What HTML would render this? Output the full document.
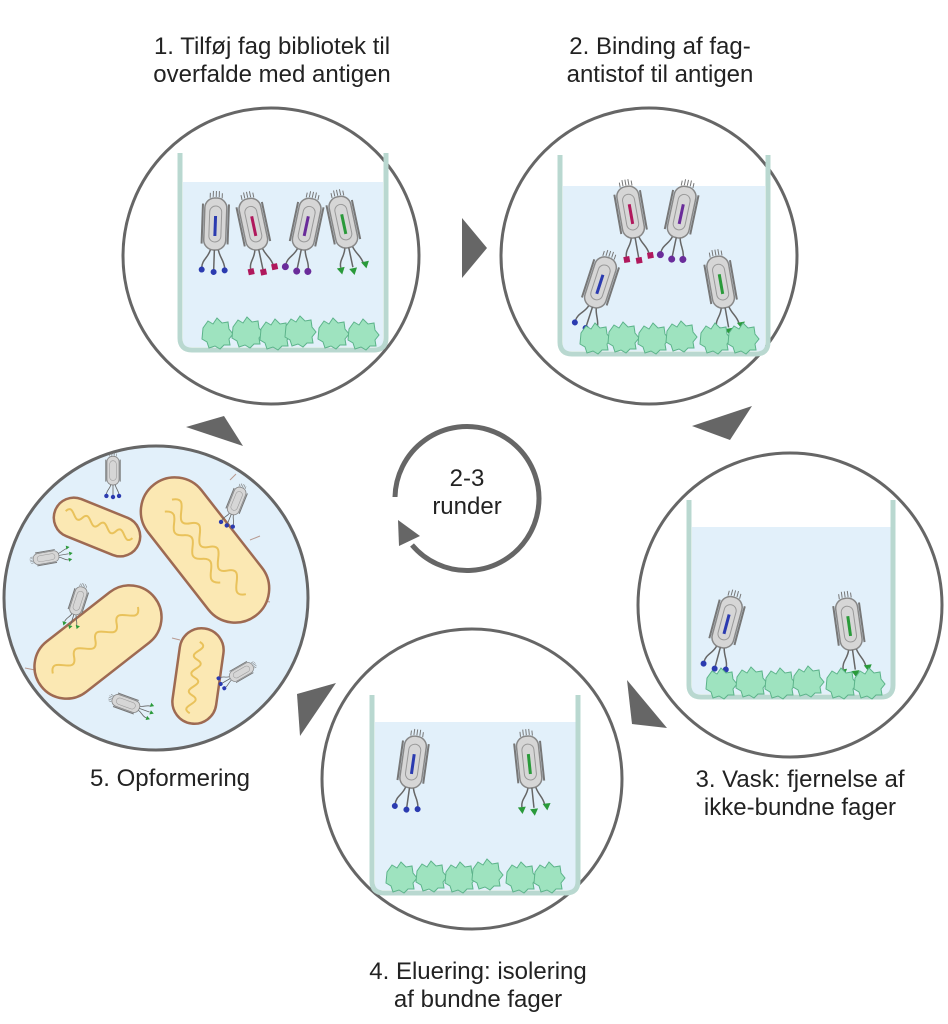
<!DOCTYPE html>
<html><head><meta charset="utf-8"><style>
html,body{margin:0;padding:0;background:#fff}
svg{display:block}
text{font-family:"Liberation Sans",sans-serif;fill:#222;font-size:24px}
</style></head><body>
<svg width="948" height="1024" viewBox="0 0 948 1024">
<defs>
<g id="ph">
  <path d="M-6,-34 l0,-5 M-3,-35 l0,-6 M0,-35 l0,-6 M3,-35 l0,-6 M6,-34 l0,-5" stroke="#777" stroke-width="1"/>
  <rect x="-11" y="-34" width="22" height="52" rx="10" fill="#d6d6d6" stroke="#888" stroke-width="1.5"/>
  <rect x="-6" y="-26" width="12" height="36" rx="6" fill="none" stroke="#999" stroke-width="1"/>
  <line x1="-13" y1="-28" x2="-13" y2="12" stroke="#777" stroke-width="2"/>
  <line x1="13" y1="-28" x2="13" y2="12" stroke="#777" stroke-width="2"/>
  <path d="M-4,18 C-6,26 -12,28 -12,36 M0,18 L0,38 M4,18 C6,26 10,28 11,36" stroke="#666" stroke-width="1.5" fill="none"/>
</g>
<g id="ag">
  <path d="M-11,-5 l5,-7 l5,3 l4,-6 l5,5 l6,-1 l1,7 l4,5 l-4,5 l1,6 l-6,0 l-4,4 l-5,-3 l-6,2 l-2,-6 l-5,-3 z" fill="#9ee3bf" stroke="#5cb38a" stroke-width="1"/>
</g>
</defs>

<text x="272" y="54" text-anchor="middle">1. Tilføj fag bibliotek til</text>
<text x="272" y="82" text-anchor="middle">overfalde med antigen</text>
<text x="660" y="54" text-anchor="middle">2. Binding af fag-</text>
<text x="660" y="82" text-anchor="middle">antistof til antigen</text>
<text x="800" y="787" text-anchor="middle">3. Vask: fjernelse af</text>
<text x="800" y="815" text-anchor="middle">ikke-bundne fager</text>
<text x="478" y="979" text-anchor="middle">4. Eluering: isolering</text>
<text x="478" y="1007" text-anchor="middle">af bundne fager</text>
<text x="170" y="786" text-anchor="middle">5. Opformering</text>

<circle cx="271" cy="256" r="148" fill="#fff" stroke="#666" stroke-width="3"/>
<rect x="183" y="182" width="200" height="165" fill="#e2f0fa"/>
<path d="M180,153 L180,338 Q180,350 192,350 L374,350 Q386,350 386,338 L386,153" fill="none" stroke="#b9d8d0" stroke-width="5"/>
<g transform="translate(215,232) rotate(2)"><use href="#ph"/><rect x="-1.5" y="-16" width="3" height="20" fill="#2b3bb0"/><g fill="#2b3bb0"><circle cx="-12" cy="38" r="3"/><circle cx="0" cy="40" r="3"/><circle cx="11" cy="38" r="3"/></g></g>
<g transform="translate(255,232) rotate(-12)"><use href="#ph"/><rect x="-1.5" y="-16" width="3" height="20" fill="#b0185c"/><g fill="#b0185c"><rect x="-15" y="35" width="6" height="6"/><rect x="-3" y="38" width="6" height="6"/><rect x="9" y="35" width="6" height="6"/></g></g>
<g transform="translate(305,232) rotate(12)"><use href="#ph"/><rect x="-1.5" y="-16" width="3" height="20" fill="#6a2c9a"/><g fill="#6a2c9a"><circle cx="-12" cy="38" r="3.5"/><circle cx="0" cy="40" r="3.5"/><circle cx="11" cy="38" r="3.5"/></g></g>
<g transform="translate(345,230) rotate(-12)"><use href="#ph"/><rect x="-1.5" y="-16" width="3" height="20" fill="#2a9a3a"/><g fill="#2a9a3a"><path d="M-16,36 l8,0 l-4,7z M-4,39 l8,0 l-4,7z M9,35 l8,0 l-4,7z"/></g></g>
<g><use href="#ag" x="214" y="333"/><use href="#ag" x="244" y="332"/><use href="#ag" x="272" y="334"/><use href="#ag" x="297" y="331"/><use href="#ag" x="330" y="333"/><use href="#ag" x="360" y="334"/></g>

<circle cx="649" cy="256" r="148" fill="#fff" stroke="#666" stroke-width="3"/>
<rect x="563" y="186" width="202" height="165" fill="#e2f0fa"/>
<path d="M560,155 L560,342 Q560,354 572,354 L756,354 Q768,354 768,342 L768,155" fill="none" stroke="#b9d8d0" stroke-width="5"/>
<g transform="translate(632,220) rotate(-10)"><use href="#ph"/><rect x="-1.5" y="-16" width="3" height="20" fill="#b0185c"/><g fill="#b0185c"><rect x="-15" y="35" width="6" height="6"/><rect x="-3" y="38" width="6" height="6"/><rect x="9" y="35" width="6" height="6"/></g></g>
<g transform="translate(680,220) rotate(12)"><use href="#ph"/><rect x="-1.5" y="-16" width="3" height="20" fill="#6a2c9a"/><g fill="#6a2c9a"><circle cx="-12" cy="38" r="3.5"/><circle cx="0" cy="40" r="3.5"/><circle cx="11" cy="38" r="3.5"/></g></g>
<g transform="translate(598,290) rotate(18)"><use href="#ph"/><rect x="-1.5" y="-16" width="3" height="20" fill="#2b3bb0"/><g fill="#2b3bb0"><circle cx="-12" cy="38" r="3"/><circle cx="0" cy="40" r="3"/><circle cx="11" cy="38" r="3"/></g></g>
<g transform="translate(722,290) rotate(-10)"><use href="#ph"/><rect x="-1.5" y="-16" width="3" height="20" fill="#2a9a3a"/><g fill="#2a9a3a"><path d="M-16,36 l8,0 l-4,7z M-4,39 l8,0 l-4,7z M9,35 l8,0 l-4,7z"/></g></g>
<g><use href="#ag" x="592" y="338"/><use href="#ag" x="620" y="337"/><use href="#ag" x="650" y="338"/><use href="#ag" x="678" y="336"/><use href="#ag" x="712" y="338"/><use href="#ag" x="740" y="338"/></g>

<circle cx="790" cy="605" r="152" fill="#fff" stroke="#666" stroke-width="3"/>
<rect x="692" y="527" width="199" height="167" fill="#e2f0fa"/>
<path d="M689,500 L689,685 Q689,697 701,697 L881,697 Q893,697 893,685 L893,500" fill="none" stroke="#b9d8d0" stroke-width="5"/>
<g transform="translate(725,630) rotate(15)"><use href="#ph"/><rect x="-1.5" y="-16" width="3" height="20" fill="#2b3bb0"/><g fill="#2b3bb0"><circle cx="-12" cy="38" r="3"/><circle cx="0" cy="40" r="3"/><circle cx="11" cy="38" r="3"/></g></g>
<g transform="translate(850,632) rotate(-8)"><use href="#ph"/><rect x="-1.5" y="-16" width="3" height="20" fill="#2a9a3a"/><g fill="#2a9a3a"><path d="M-16,36 l8,0 l-4,7z M-4,39 l8,0 l-4,7z M9,35 l8,0 l-4,7z"/></g></g>
<g><use href="#ag" x="718" y="683"/><use href="#ag" x="748" y="682"/><use href="#ag" x="777" y="683"/><use href="#ag" x="805" y="681"/><use href="#ag" x="838" y="683"/><use href="#ag" x="866" y="683"/></g>

<circle cx="472" cy="779" r="150" fill="#fff" stroke="#666" stroke-width="3"/>
<rect x="375" y="722" width="201" height="168" fill="#e2f0fa"/>
<path d="M372,695 L372,881 Q372,893 384,893 L566,893 Q578,893 578,881 L578,695" fill="none" stroke="#b9d8d0" stroke-width="5"/>
<g transform="translate(412,770) rotate(8)"><use href="#ph"/><rect x="-1.5" y="-16" width="3" height="20" fill="#2b3bb0"/><g fill="#2b3bb0"><circle cx="-12" cy="38" r="3"/><circle cx="0" cy="40" r="3"/><circle cx="11" cy="38" r="3"/></g></g>
<g transform="translate(530,770) rotate(-6)"><use href="#ph"/><rect x="-1.5" y="-16" width="3" height="20" fill="#2a9a3a"/><g fill="#2a9a3a"><path d="M-16,36 l8,0 l-4,7z M-4,39 l8,0 l-4,7z M9,35 l8,0 l-4,7z"/></g></g>
<g><use href="#ag" x="398" y="877"/><use href="#ag" x="428" y="876"/><use href="#ag" x="457" y="877"/><use href="#ag" x="484" y="874"/><use href="#ag" x="518" y="877"/><use href="#ag" x="546" y="877"/></g>

<circle cx="156" cy="598" r="152" fill="#e2f0fa" stroke="#666" stroke-width="3"/>
<g stroke="#b89a90" stroke-width="1" fill="none">
<path d="M150,520 l-8,-6 M170,490 l-6,-8 M250,540 l10,-4 M260,600 l10,2 M60,650 l-10,4 M150,600 l8,6 M35,670 l-10,-2 M120,540 l8,4 M60,520 l-6,-8 M200,700 l8,4 M180,640 l-8,-2 M230,480 l6,-6"/>
</g>
<g transform="translate(205,550) rotate(52)"><rect x="-83" y="-34" width="166" height="68" rx="34" fill="#fbe8b3" stroke="#9e6a52" stroke-width="2.5"/><path d="M-60,-5 c10,-20 20,20 30,0 c10,-20 20,20 30,0 c10,-20 20,20 30,0 c10,-20 20,20 30,0 M-55,8 c12,-18 18,18 30,0 c12,-18 18,18 30,0 c12,-18 18,18 30,0" stroke="#e9c25b" stroke-width="2" fill="none"/></g>
<g transform="translate(97,527) rotate(22)"><rect x="-45" y="-20" width="90" height="40" rx="20" fill="#fbe8b3" stroke="#9e6a52" stroke-width="2.5"/><path d="M-35,-3 c6,-12 12,12 18,0 c6,-12 12,12 18,0 c6,-12 12,12 18,0 c6,-12 12,12 18,0" stroke="#e9c25b" stroke-width="2" fill="none"/></g>
<g transform="translate(98,642) rotate(-38)"><rect x="-72" y="-32" width="144" height="64" rx="32" fill="#fbe8b3" stroke="#9e6a52" stroke-width="2.5"/><path d="M-55,-3 c9,-18 18,18 27,0 c9,-18 18,18 27,0 c9,-18 18,18 27,0 c9,-18 18,18 27,0" stroke="#e9c25b" stroke-width="2" fill="none"/></g>
<g transform="translate(198,676) rotate(-82)"><rect x="-48" y="-22" width="96" height="44" rx="22" fill="#fbe8b3" stroke="#9e6a52" stroke-width="2.5"/><path d="M-38,-3 c6,-14 12,14 18,0 c6,-14 12,14 18,0 c6,-14 12,14 18,0 c6,-14 12,14 18,0" stroke="#e9c25b" stroke-width="2" fill="none"/></g>
<g transform="translate(113,475) scale(0.55)"><use href="#ph"/><g fill="#2b3bb0"><circle cx="-12" cy="38" r="4"/><circle cx="0" cy="40" r="4"/><circle cx="11" cy="38" r="4"/></g></g>
<g transform="translate(235,505) rotate(22) scale(0.55)"><use href="#ph"/><g fill="#2b3bb0"><circle cx="-12" cy="38" r="4"/><circle cx="0" cy="40" r="4"/><circle cx="11" cy="38" r="4"/></g></g>
<g transform="translate(50,557) rotate(-100) scale(0.5)"><use href="#ph"/><g fill="#2a9a3a"><path d="M-16,36 l8,0 l-4,7z M-4,39 l8,0 l-4,7z M9,35 l8,0 l-4,7z"/></g></g>
<g transform="translate(77,605) rotate(18) scale(0.55)"><use href="#ph"/><g fill="#2a9a3a"><path d="M-16,36 l8,0 l-4,7z M-4,39 l8,0 l-4,7z M9,35 l8,0 l-4,7z"/></g></g>
<g transform="translate(238,674) rotate(60) scale(0.5)"><use href="#ph"/><g fill="#2b3bb0"><circle cx="-12" cy="38" r="4"/><circle cx="0" cy="40" r="4"/><circle cx="11" cy="38" r="4"/></g></g>
<g transform="translate(130,705) rotate(-70) scale(0.55)"><use href="#ph"/><g fill="#2a9a3a"><path d="M-16,36 l8,0 l-4,7z M-4,39 l8,0 l-4,7z M9,35 l8,0 l-4,7z"/></g></g>

<g fill="#666">
<polygon points="462,218 487,248 462,278"/>
<polygon points="692,426 752,406 730,440"/>
<polygon points="627,680 667,728 632,724"/>
<polygon points="297,694 336,683 300,736"/>
<polygon points="186,427 224,416 243,446"/>
</g>

<path d="M395,497 A72,72 0 1 1 412,545" fill="none" stroke="#666" stroke-width="5"/>
<polygon points="398,520 399,546 420,536" fill="#666"/>
<text x="467" y="486" text-anchor="middle">2-3</text>
<text x="467" y="514" text-anchor="middle">runder</text>
</svg>
</body></html>
